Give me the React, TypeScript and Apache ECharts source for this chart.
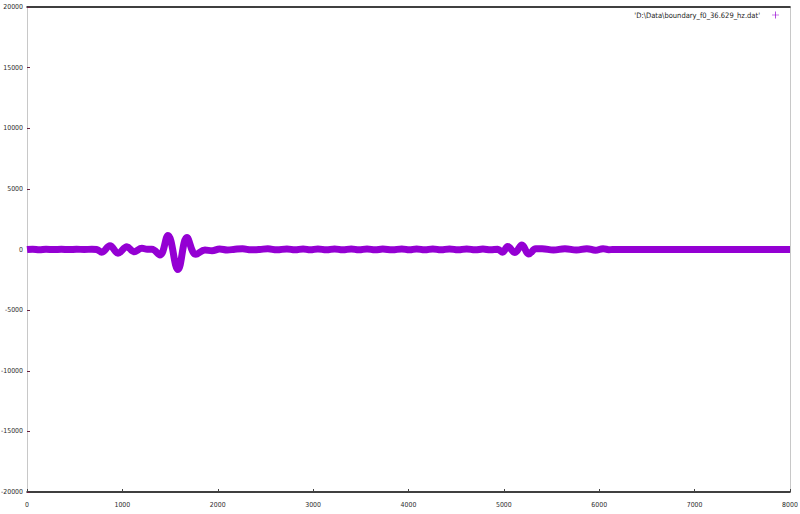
import React, { useEffect, useRef } from "react";
import * as echarts from "echarts";

const seriesName = "'D:\\Data\\boundary_f0_36.629_hz.dat'";

const xValues = [
  0, 60, 130, 200, 280, 360, 440, 520, 600, 680, 730, 783, 870, 954, 1048, 1121, 1205, 1260, 1310,
  1394, 1478, 1583, 1677, 1770, 1866, 1940, 2020, 2100, 2180, 2260, 2350, 2440, 2525, 2620, 2725,
  2810, 2895, 2970, 3050, 3140, 3225, 3310, 3400, 3480, 3565, 3650, 3730, 3830, 3930, 4010, 4085,
  4170, 4255, 4340, 4430, 4520, 4610, 4700, 4780, 4860, 4935, 4985, 5040, 5115, 5190, 5260, 5335,
  5400, 5520, 5640, 5760, 5870, 5960, 6040, 6100, 6140, 6150, 7000, 8000,
];
const yValues = [
  0, 30, -20, 20, -10, 20, -10, 20, 0, 20, 0, -230, 310, -300, 230, -180, 100, 20, 20,
  -450, 1150, -1650, 980, -400, -40, -100, 40, -40, 20, 60, -30, 0, 60, -30, 50,
  -30, 50, -30, 50, -30, 50, -30, 50, -30, 50, -30, 40, -30, 50, -30, 50,
  -30, 50, -30, 50, -30, 50, -30, 40, -30, 20, -220, 250, -250, 370, -370, 60,
  70, -50, 70, -50, 70, -60, 70, -20, 0, 0, 0, 0,
];

const xTicks = [0, 1000, 2000, 3000, 4000, 5000, 6000, 7000, 8000];
const yTicks = [-20000, -15000, -10000, -5000, 0, 5000, 10000, 15000, 20000];

const LINE_COLOR = "#9400D3";
const LABEL_COLOR = "#2a2a2a";

function measure(font: string, text: string): number {
  const c = document.createElement("canvas").getContext("2d");
  if (!c) return 0;
  c.font = font;
  return c.measureText(text).width;
}

function pickFont(): string {
  const candidates = ["Liberation Sans Narrow", "DejaVu Sans Condensed", "Liberation Sans"];
  for (const f of candidates) {
    const a = measure(`20px '${f}', monospace`, "abcdefghij0123456789");
    const b = measure("20px monospace", "abcdefghij0123456789");
    if (Math.abs(a - b) > 0.5) return f;
  }
  return "sans-serif";
}

export default function App() {
  const ref = useRef<HTMLDivElement>(null);
  useEffect(() => {
    if (!ref.current) return;
    const family = pickFont();
    const FONT = `'${family}', sans-serif`;
    const wLab = measure(`10px ${FONT}`, "-20000");
    const labelSize = Math.min(10, Math.max(6.5, (10 * 22) / (wLab || 22)));
    const wLeg = measure(`10px ${FONT}`, seriesName);
    const legendSize = Math.min(10, Math.max(6.5, (10 * 126) / (wLeg || 126)));

    const chart = echarts.init(ref.current, undefined, { renderer: "svg" });
    const data = xValues.map((x, i) => [x, yValues[i]]);
    const xMin = xTicks[0];
    const xMax = xTicks[xTicks.length - 1];
    const yMin = yTicks[0];
    const yMax = yTicks[yTicks.length - 1];
    const fmt = (v: number) => String(v);
    chart.setOption({
      animation: false,
      backgroundColor: "#ffffff",
      grid: { left: 27, right: 10, top: 7, bottom: 22, containLabel: false, outerBoundsMode: "none" },
      legend: {
        right: 21,
        top: 11,
        padding: 0,
        align: "right",
        icon: "path://M4.5,0H5.5V4.5H10V5.5H5.5V10H4.5V5.5H0V4.5H4.5Z",
        itemWidth: 7,
        itemHeight: 7,
        itemGap: 4,
        textStyle: { fontFamily: FONT, fontSize: legendSize, color: "#222", padding: [0, 7, 0, 0] },
        data: [seriesName],
      },
      xAxis: [
        {
          type: "value",
          min: xMin,
          max: xMax,
          interval: 1000,
          position: "bottom",
          axisLine: { show: true, onZero: false, lineStyle: { color: "#000", width: 1.5 } },
          axisTick: { show: true, inside: true, length: 3, lineStyle: { color: "#444" } },
          axisLabel: { margin: 9, fontFamily: FONT, fontSize: labelSize, color: LABEL_COLOR, formatter: fmt },
          splitLine: { show: false },
        },
        {
          type: "value",
          min: xMin,
          max: xMax,
          position: "top",
          axisLine: { show: true, onZero: false, lineStyle: { color: "#000", width: 1.5 } },
          axisTick: { show: false },
          axisLabel: { show: false },
          splitLine: { show: false },
        },
      ],
      yAxis: [
        {
          type: "value",
          min: yMin,
          max: yMax,
          interval: 5000,
          position: "left",
          axisLine: { show: true, onZero: false, lineStyle: { color: "#c8c8c8", width: 1 } },
          axisTick: { show: true, inside: true, length: 3, lineStyle: { color: "#6a2040" } },
          axisLabel: { margin: 4, fontFamily: FONT, fontSize: labelSize, color: LABEL_COLOR, formatter: fmt },
          splitLine: { show: false },
        },
        {
          type: "value",
          min: yMin,
          max: yMax,
          position: "right",
          axisLine: { show: true, onZero: false, lineStyle: { color: "#c8c8c8", width: 1 } },
          axisTick: { show: false },
          axisLabel: { show: false },
          splitLine: { show: false },
        },
      ],
      series: [
        {
          name: seriesName,
          type: "line",
          data,
          smooth: 0.4,
          symbol: "none",
          lineStyle: { color: LINE_COLOR, width: 7 },
          itemStyle: { color: LINE_COLOR },
          xAxisIndex: 0,
          yAxisIndex: 0,
        },
      ],
    });
    return () => chart.dispose();
  }, []);
  return <div ref={ref} style={{ width: 800, height: 514, position: "absolute", left: 0, top: 0 }} />;
}
